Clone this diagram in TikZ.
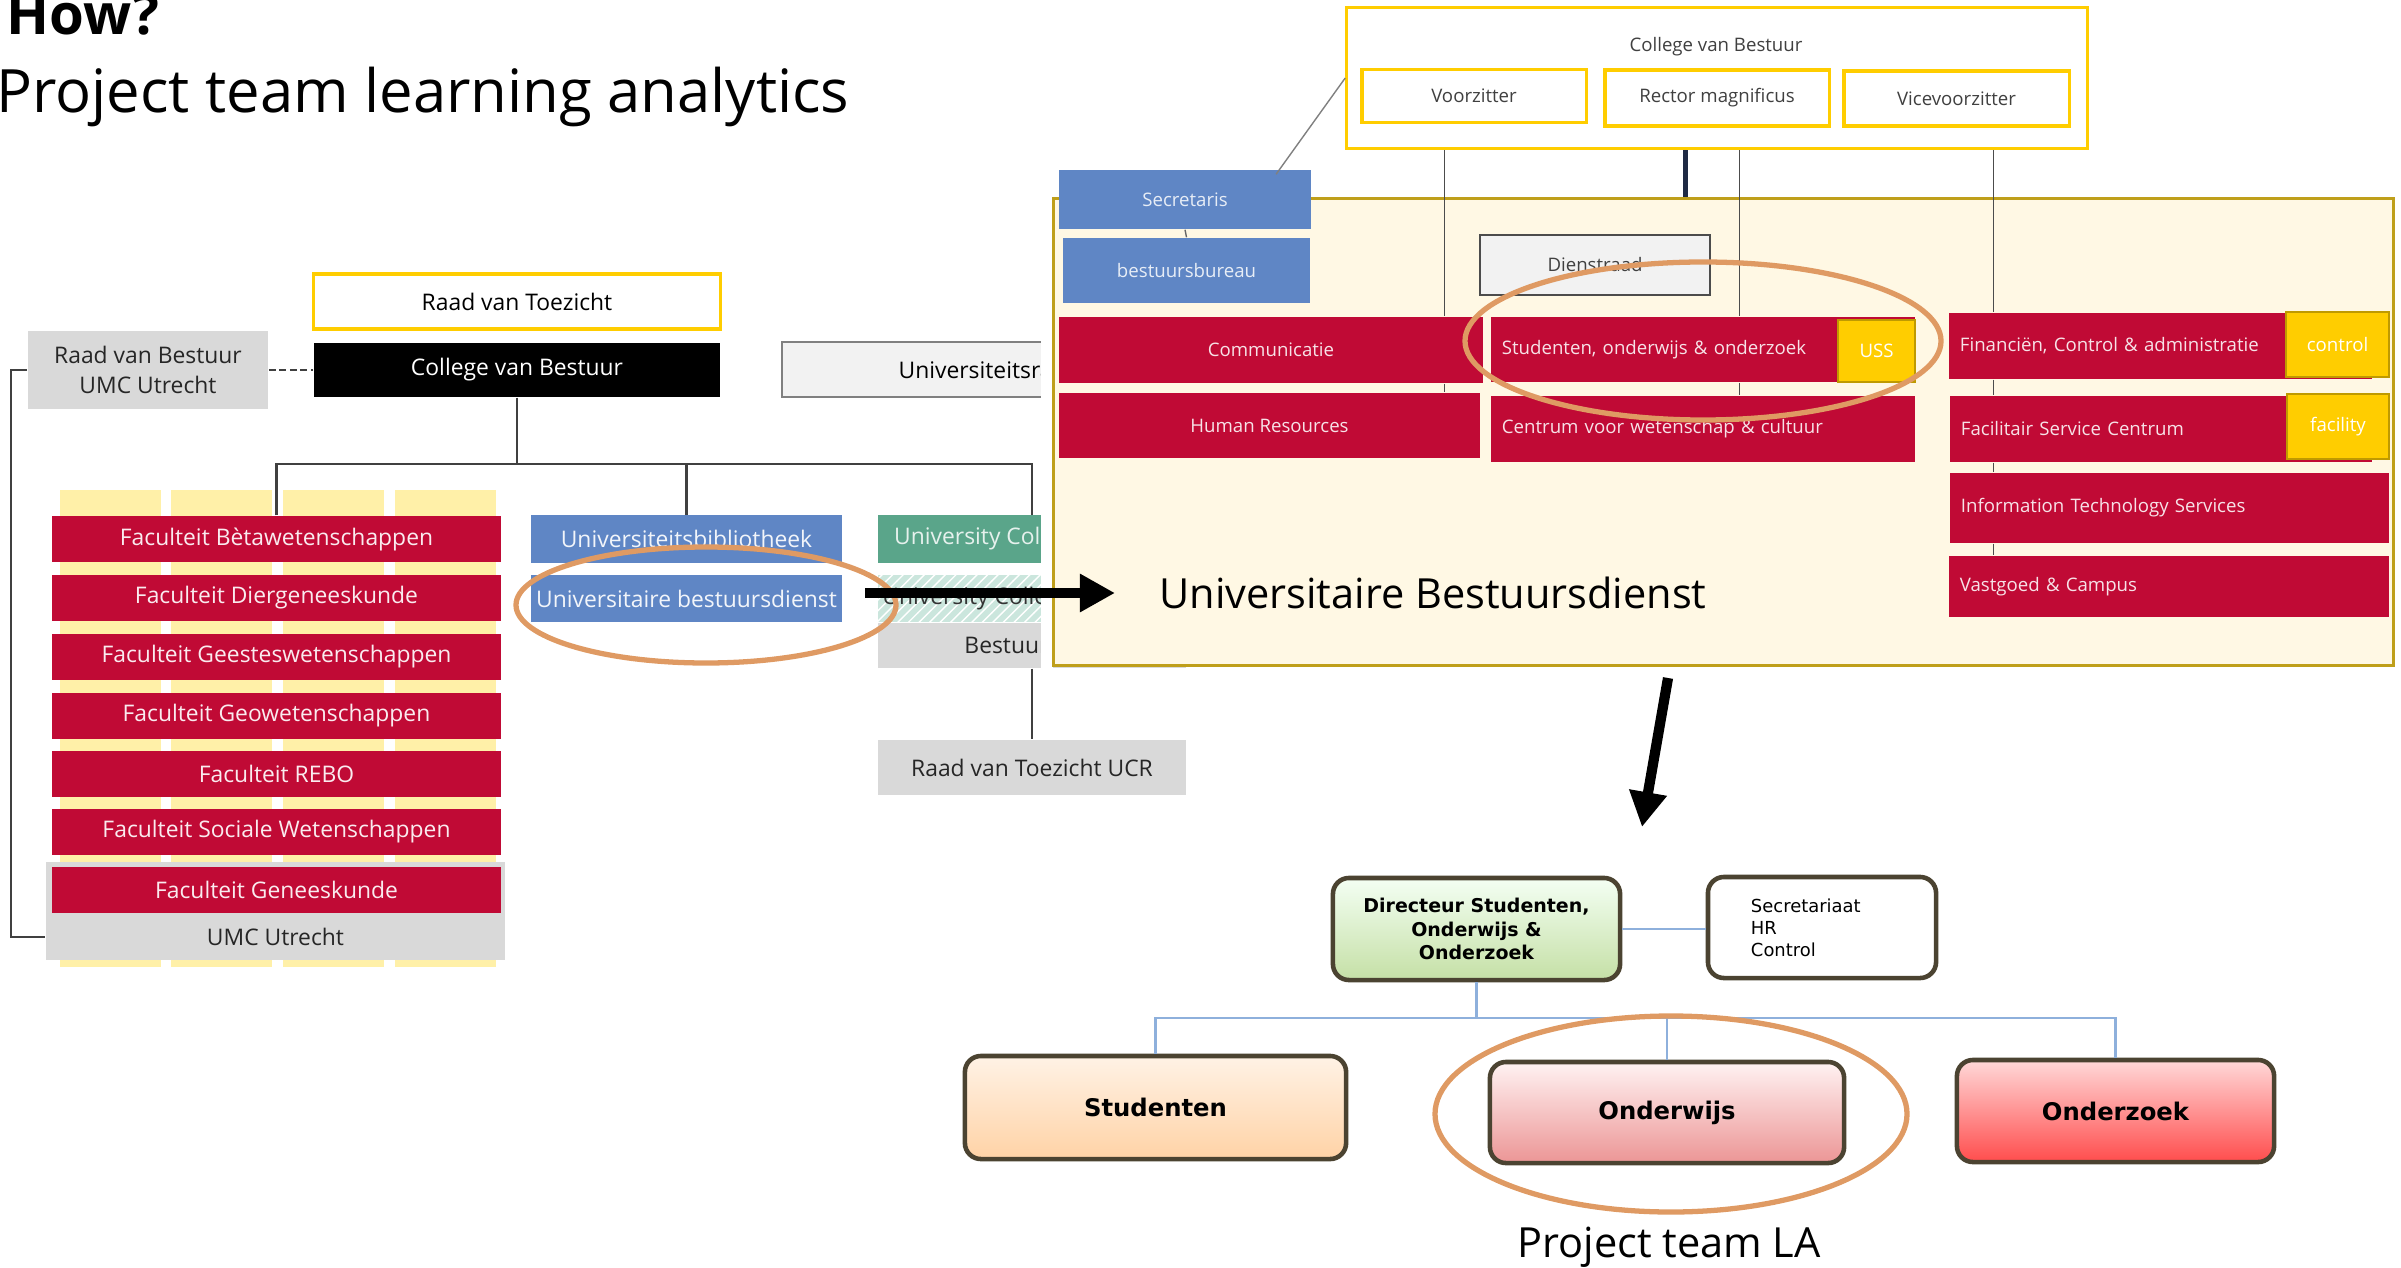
\documentclass[tikz,border=0pt]{standalone}
\usepackage{fontspec}
\setmainfont{Open Sans}
\newfontfamily\verd{DejaVu Sans}
\usepackage{tikz}
\usetikzlibrary{patterns,arrows.meta}

\definecolor{uured}{HTML}{C00A35}
\definecolor{uugold}{HTML}{FFCD00}
\definecolor{paleyel}{HTML}{FFF0A8}
\definecolor{cream}{HTML}{FFF8E4}
\definecolor{panelrim}{HTML}{BF9F1A}
\definecolor{uublue}{HTML}{5F86C5}
\definecolor{uugreen}{HTML}{5AA58A}
\definecolor{hatchbg}{HTML}{CBE6DD}
\definecolor{lgrey}{HTML}{D9D9D9}
\definecolor{xlgrey}{HTML}{F2F2F2}
\definecolor{hilite}{HTML}{DF9A63}
\definecolor{navy}{HTML}{1F2A44}
\definecolor{linkblue}{HTML}{8EB0DC}
\definecolor{rim}{HTML}{4B4331}

\tikzset{
  sz/.style 2 args={minimum width=#1cm, minimum height=#2cm, inner sep=0pt},
  lft/.style={font=\fontsize{6.5}{8.5}\selectfont, align=center},
  fac/.style={lft, fill=uured, text=white!92!uured, sz={4.49}{0.46}},
  blu/.style={lft, fill=uublue, text=white!92!uublue, sz={3.11}{0.47}},
  gry/.style={lft, fill=lgrey, text=black!85},
  rgt/.style={font=\fontsize{5.3}{6.5}\selectfont},
  rbox/.style={rgt, fill=uured, text=white!88!uured},
  rboxl/.style={rbox, align=left, inner xsep=0.11cm},
  ytag/.style={rgt, fill=uugold, draw=uugold!75!black, line width=0.5pt, text=white},
  gbox/.style={rgt, draw=uugold, line width=0.9pt, fill=white, text=black!75},
  bbox/.style={rgt, fill=uublue, text=white!85!uublue},
  hl/.style={draw=hilite, line width=1.5pt},
  fat/.style={line width=2.9pt, -{Triangle[length=0.35cm,width=0.36cm]}},
  conn/.style={draw=black!75, line width=0.6pt},
  org/.style={draw=rim, line width=1.3pt, rounded corners=0.16cm, font=\verd\bfseries\fontsize{6.9}{8}\selectfont},
  link/.style={draw=linkblue, line width=0.8pt}
}

\begin{document}
\begin{tikzpicture}[x=0.01cm, y=-0.01cm]
  \useasboundingbox (0,0) rectangle (2401,1267);
  %title
  \node[anchor=base west, font=\fontsize{16}{20}\selectfont\bfseries] (how) at (-6,35) {How?};
  \node[anchor=base west, font=\fontsize{17}{20}\selectfont] (sub) at (-16,113) {Project team learning analytics};

  %left chart
  \foreach \x in {60,171,283,395} \fill[paleyel] (\x,490) rectangle ++(101,477);
  \node[lft, draw=uugold, line width=0.9pt, fill=white, sz={4.06}{0.55}] (rvt) at (517,301.5) {Raad van Toezicht};
  \node[lft, fill=black, text=white, sz={4.06}{0.54}] (cvb) at (517,370) {College van Bestuur};
  \node[gry, sz={2.40}{0.78}] (rvb) at (148,370) {Raad van Bestuur\\UMC Utrecht};
  \node[lft, fill=xlgrey, draw=black!50, line width=0.6pt, sz={4.14}{0.55}] (ur) at (989,369.5) {Universiteitsraad};
  \node[gry, sz={4.59}{0.98}] (umcbg) at (275.5,911) {};
  \foreach \t/\y [count=\i] in {Bètawetenschappen/539, Diergeneeskunde/598, Geesteswetenschappen/657,
      Geowetenschappen/716, REBO/774, Sociale Wetenschappen/832, Geneeskunde/890}
    \node[fac] (f\i) at (276.5,\y) {Faculteit \t};
  \node[lft, text=black!85, inner sep=0pt] (umc) at (275.5,937) {UMC Utrecht};
  \node[blu] (ub) at (686.5,539) {Universiteitsbibliotheek};
  \node[blu] (ubd) at (686.5,598.5) {Universitaire bestuursdienst};
  \node[lft, fill=uugreen, text=white!85!uugreen, sz={3.08}{0.47}] (ucu) at (1032,539) {University College Utrecht};
  \node[lft, fill=hatchbg, text=black!80, sz={3.08}{0.47},
        postaction={pattern=north east lines, pattern color=white}] (ucr) at (1032,598.5) {University College Roosevelt};
  \node[gry, sz={3.08}{0.45}] (bucr) at (1032,645.5) {Bestuur UCR};
  \node[gry, sz={3.08}{0.55}] (rvtucr) at (1032,767.5) {Raad van Toezicht UCR};

  \coordinate (hub) at (517,464);
  \draw[conn] (cvb.south) -- (hub);
  \draw[conn] (f1.north) |- (hub) -| (ucu.north);
  \draw[conn] (hub -| ub.north) -- (ub.north);
  \draw[conn, dash pattern=on 2pt off 1pt] (rvb.east) -- (cvb.west);
  \draw[conn] (rvb.west) -- ++(-16,0) |- (umc -| umcbg.west);
  \draw[conn] (bucr.south) -- (rvtucr.north);
  \draw[hl] (706,605) ellipse [x radius=190, y radius=58];

  %bestuursdienst
  \fill[white] (1041,330) rectangle (1053,680);
  \node[draw=panelrim, line width=0.9pt, fill=cream, sz={13.39}{4.66}] (pnl) at (1723.5,432) {};
  \node[draw=uugold, line width=0.9pt, fill=white, sz={7.40}{1.41}] (cvb2) at (1717,78) {};
  \node[rgt, text=black!75] (cvbt) at (1716,47) {College van Bestuur};
  \node[gbox, sz={2.24}{0.53}] (vz) at (1474,96) {Voorzitter};
  \node[gbox, sz={2.24}{0.56}] (rm) at (1717,98) {Rector magnificus};
  \node[gbox, sz={2.25}{0.55}] (vvz) at (1956.5,98.5) {Vicevoorzitter};
  \node[bbox, sz={2.52}{0.59}] (sec) at (1185,199.5) {Secretaris};
  \node[bbox, sz={2.47}{0.65}] (bb) at (1186.5,270.5) {bestuursbureau};
  \node[rgt, fill=xlgrey, draw=black!70, line width=0.6pt, text=black!75, sz={2.30}{0.60}] (dr) at (1595,265) {Dienstraad};
  \node[rbox, sz={4.24}{0.66}] (com) at (1271,350) {Communicatie};
  \node[rbox, sz={4.21}{0.65}] (hr) at (1269.5,425.5) {Human Resources};
  \node[sz={4.24}{0.65}, rboxl, text width=4.02cm] (soo) at (1703,349.5) {Studenten, onderwijs \& onderzoek};
  \node[ytag, sz={0.77}{0.62}] (uss) at (1876.5,351) {USS};
  \node[sz={4.24}{0.66}, rboxl, text width=4.02cm] (cwc) at (1703,429) {Centrum voor wetenschap \& cultuur};
  \node[sz={4.23}{0.66}, rboxl, text width=4.01cm] (fca) at (2160.5,346) {Financiën, Control \& administratie};
  \node[ytag, sz={1.03}{0.65}] (ctl) at (2337.5,344.5) {control};
  \node[sz={4.22}{0.66}, rboxl, text width=4.00cm] (fsc) at (2161,429) {Facilitair Service Centrum};
  \node[ytag, sz={1.02}{0.65}] (fcl) at (2338,426.5) {facility};
  \node[sz={4.39}{0.70}, rboxl, text width=4.17cm] (its) at (2169.5,508) {Information Technology Services};
  \node[sz={4.40}{0.61}, rboxl, text width=4.18cm] (vc) at (2169,586.5) {Vastgoed \& Campus};
  \node[anchor=base, font=\fontsize{11.8}{14}\selectfont] (ubdt) at (1433,608) {Universitaire Bestuursdienst};

  \draw[black!70, line width=0.4pt] ([xshift=0.99cm]cvb2.south west) coordinate (l1) -- (l1 |- com.north);
  \draw[black!70, line width=0.4pt] (l1 |- com.south) -- (l1 |- hr.north);
  \draw[navy, line width=1.5pt] ([xshift=3.40cm]cvb2.south west) coordinate (l2) -- (l2 |- pnl.north);
  \draw[black!70, line width=0.4pt] ([xshift=3.94cm]cvb2.south west) coordinate (l3) -- (l3 |- soo.north);
  \draw[black!70, line width=0.4pt] (l3 |- soo.south) -- (l3 |- cwc.north);
  \draw[black!70, line width=0.4pt] ([xshift=6.48cm]cvb2.south west) coordinate (l4) -- (l4 |- fca.north);
  \foreach \a/\b in {fca/fsc, fsc/its, its/vc}
    \draw[black!70, line width=0.4pt] (l4 |- \a.south) -- (l4 |- \b.north);
  \draw[black!50, line width=0.4pt] (cvb2.west) -- ([xshift=0.91cm, yshift=-0.05cm]sec.north);
  \draw[black!60, line width=0.4pt] (sec.south) -- (bb.north);
  \draw[hl] (1703,341) ellipse [x radius=238, y radius=79];

  %arrows
  \coordinate (ra1) at (865,593);
  \coordinate (ra2) at (1115,593);
  \draw[fat] (ra1) -- (ra2);
  \coordinate (dn1) at (1668,678);
  \coordinate (dn2) at (1642,827);
  \draw[fat] (dn1) -- (dn2);

  %directie SOO
  \node[org, top color=white!70!green!15, bottom color=green!30!olive!35, sz={2.87}{1.02},
        font=\verd\bfseries\fontsize{5.4}{6.6}\selectfont, align=center] (dir) at (1476.5,929) {Directeur Studenten,\\Onderwijs \&\\Onderzoek};
  \node[org, fill=white, font=\verd\fontsize{5.1}{6.3}\selectfont, align=left, text width=1.42cm, sz={2.28}{1.01}] (sht) at (1822,927.5) {Secretariaat\\HR\\Control};
  \node[org, top color=white!90!orange, bottom color=orange!35!white, sz={3.81}{1.03}] (stu) at (1155.5,1107.5) {Studenten};
  \node[org, top color=red!5!white, bottom color=red!40!white!85!gray, sz={3.54}{1.01}] (ow) at (1667,1112.5) {Onderwijs};
  \node[org, top color=red!15!white, bottom color=red!70!white, sz={3.17}{1.02}] (ozk) at (2115.5,1111) {Onderzoek};

  \draw[link] (dir.east) -- (dir.east -| sht.west);
  \coordinate (bj) at (1476.5,1018);
  \draw[link] (dir.south) -- (bj);
  \draw[link] (stu.north) |- (bj) -| (ozk.north);
  \draw[link] (bj -| ow.north) -- (ow.north);
  \draw[hl] (1671,1114) ellipse [x radius=236, y radius=98];
  \node[anchor=base, font=\fontsize{11.8}{14}\selectfont] (plt) at (1669,1257) {Project team LA};
\end{tikzpicture}
\end{document}
